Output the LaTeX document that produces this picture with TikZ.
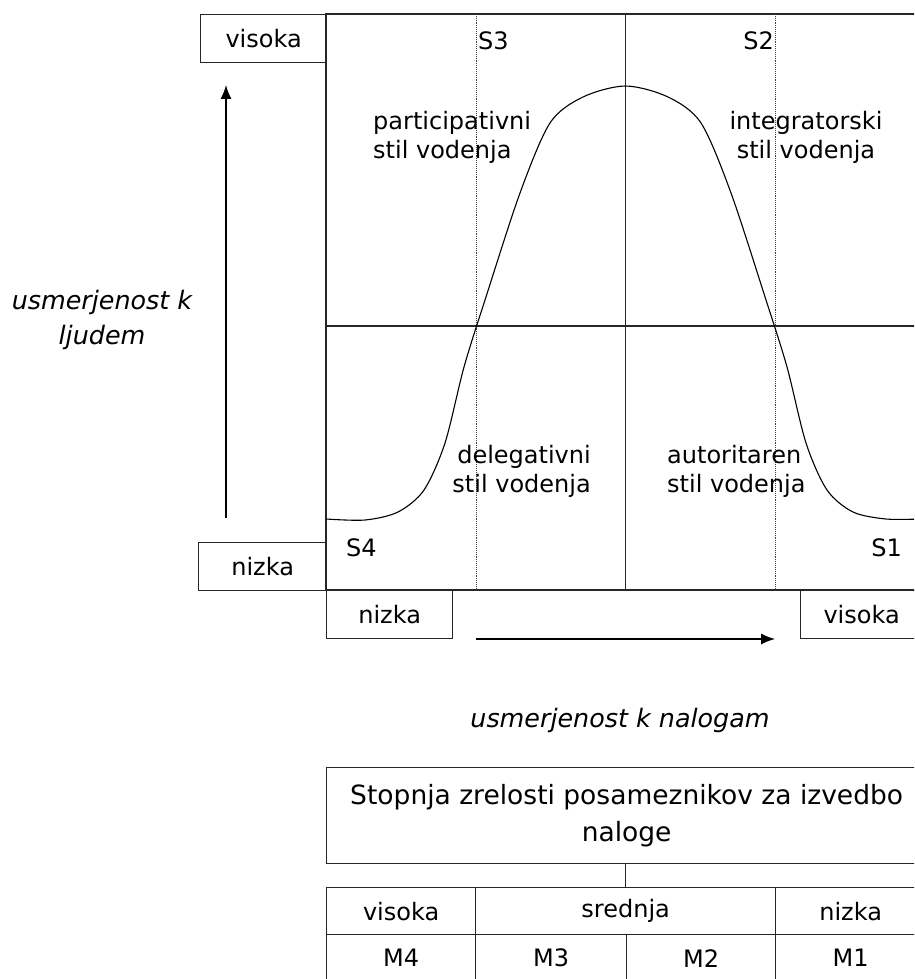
\documentclass[tikz,border=0pt]{standalone}
\usepackage{fontspec}
\setmainfont{DejaVu Sans}
\usetikzlibrary{arrows.meta,positioning}

\begin{document}
\begin{tikzpicture}[
  x=1pt,y=-1pt,
  every node/.style={font=\fontsize{24}{29}\selectfont},
  grid/.style={line width=1.3pt,black!85},
  guide/.style={densely dotted,line width=0.9pt,black!75},
  tag/.style={draw,line width=1.3pt,black!85,text=black,minimum height=48pt,inner sep=0pt,anchor=north west},
  cell/.style={tag,minimum height=47pt},
  quad label/.style={inner sep=0pt},
  axis/.style={-{Latex[length=14pt,width=11pt]},line width=1.3pt},
  axis label/.style={font=\fontsize{25.4}{35}\selectfont\itshape,align=center},
  bell/.style={line width=1.1pt}
]
\useasboundingbox (0,0) rectangle (914,979);
\clip (0,0) rectangle (914,979);

% kvadranti
\draw[grid] (326,14) rectangle (930,590);
\draw[grid] (625.5,14) -- (625.5,590);
\draw[grid] (326,326) -- (930,326);
\draw[guide] (476,14) -- (476,590);
\draw[guide] (775,14) -- (775,590);

% oznake na oseh
\node[tag,minimum width=126pt] (yhigh) at (200,14) {visoka};
\node[tag,minimum width=128pt] (ylow) at (198,542) {nizka};
\node[tag,minimum width=126pt] (xlow) at (326,590) {nizka};
\node[tag,minimum width=122pt] (xhigh) at (800,590) {visoka};

\coordinate (ytail) at (226,518);
\coordinate (yhead) at (226,85);
\draw[axis] (ytail) -- (yhead);
\coordinate (xtail) at (476,639);
\coordinate (xhead) at (775,639);
\draw[axis] (xtail) -- (xhead);

\node[axis label] (peoplelbl) at (102,320) {usmerjenost k\\ljudem};
\node[axis label] (tasklbl) at (620,720) {usmerjenost k nalogam};

% krivulja
\draw[bell] plot[smooth,tension=0.5] coordinates {
  (326,519) (365,520) (398,512) (424,490) (445,443) (464,367) (485,300)
  (520,193) (550,123) (583,97) (625.5,86) (668,97) (701,123) (731,193)
  (766,300) (787,367) (806,443) (827,490) (853,512) (886,519) (920,519)};

% stili vodenja
\node[quad label,anchor=west] (s3) at (478,41) {S3};
\node[quad label,anchor=east] (s2) at (774,41) {S2};
\node[quad label,anchor=west] (s4) at (346,548) {S4};
\node[quad label,anchor=east] (s1) at (902,548) {S1};
\node[quad label,align=left,anchor=west] (part) at (373,137) {participativni\\stil vodenja};
\node[quad label,align=center] (integ) at (806,137) {integratorski\\stil vodenja};
\node[quad label,align=right,anchor=east] (deleg) at (591,471) {delegativni\\stil vodenja};
\node[quad label,align=left,anchor=west] (autor) at (667,471) {autoritaren\\stil vodenja};

% zrelost
\node[tag,minimum width=600pt,minimum height=96pt,align=center,
  font=\fontsize{26.5}{37}\selectfont] (maturity) at (326,767)
  {Stopnja zrelosti posameznikov za izvedbo\\naloge};
\node[cell,minimum width=149pt] (mhigh) at (326,887) {visoka};
\node[cell,minimum width=300pt] (mmid) at (475,887) {srednja};
\node[cell,minimum width=150pt] (mlow) at (775,887) {nizka};
\node[cell,minimum width=149pt] (m4) at (326,934) {M4};
\node[cell,minimum width=151pt] (m3) at (475,934) {M3};
\node[cell,minimum width=149pt] (m2) at (626,934) {M2};
\node[cell,minimum width=150pt] (m1) at (775,934) {M1};
\draw[grid] (mmid.north |- maturity.south) -- (mmid.north);
\end{tikzpicture}
\end{document}
